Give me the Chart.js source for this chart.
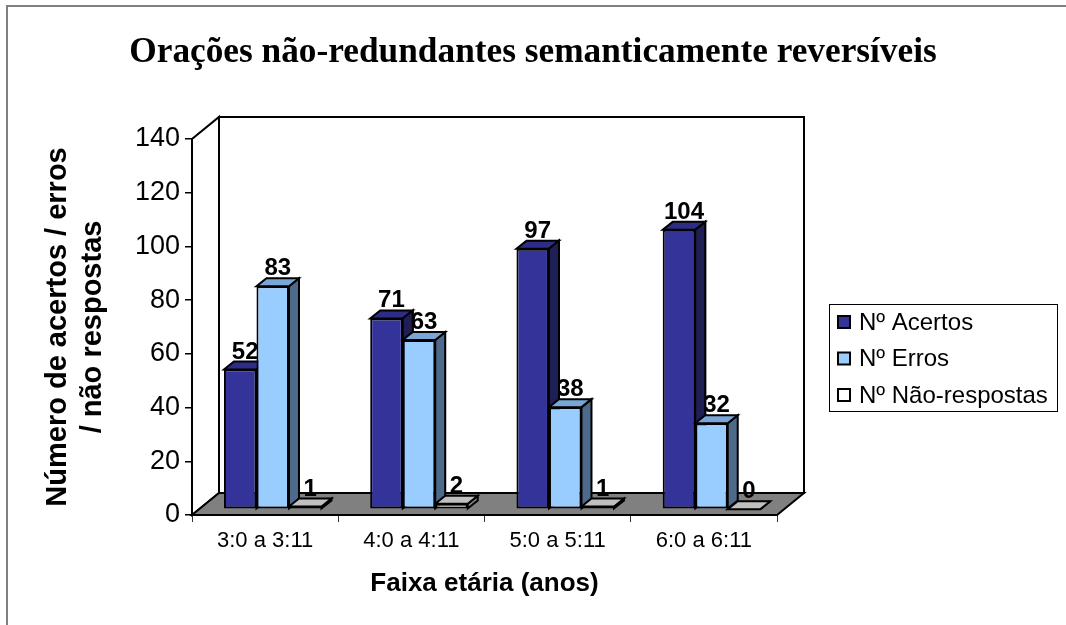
<!DOCTYPE html>
<html>
<head>
<meta charset="utf-8">
<script src="https://cdn.jsdelivr.net/npm/chart.js@4.4.0/dist/chart.umd.min.js"></script>
<style>
  html, body { margin: 0; padding: 0; background: #fff; }
  #wrap { position: relative; width: 1066px; height: 625px; }
</style>
</head>
<body>
<div id="wrap"><canvas id="chart" width="1066" height="625"></canvas></div>
<script>
const faixas = ['3:0 a 3:11', '4:0 a 4:11', '5:0 a 5:11', '6:0 a 6:11'];
const acertos = [52, 71, 97, 104];
const erros = [83, 63, 38, 32];
const naoRespostas = [1, 2, 1, 0];
const series = ['Nº Acertos', 'Nº Erros', 'Nº Não-respostas'];
const yMax = 140;
const yStep = 20;

// front / top / side colours per series
const frontCores = ['#333399', '#99ccff', '#ffffff'];
const topoCores = ['#2d2d88', '#79a6d6', '#c0c0c0'];
const ladoCores = ['#1f1f55', '#4d6a8a', '#808080'];

const DX = 27, DY = -22;    // depth of walls / floor
const BX = 10, BY = -8;     // depth of each bar
const SX = 7.6, SY = -5.8;  // bars sit a bit back on the floor

function poly(ctx, pts, fill) {
    ctx.beginPath();
    ctx.moveTo(pts[0][0], pts[0][1]);
    for (let i = 1; i < pts.length; i++) ctx.lineTo(pts[i][0], pts[i][1]);
    ctx.closePath();
    if (fill) { ctx.fillStyle = fill; ctx.fill(); }
    ctx.stroke();
}

function barra(chart, i, j) {
    const el = chart.getDatasetMeta(i).data[j];
    const p = el.getProps(['x', 'y', 'base', 'width'], true);
    return { l: p.x - p.width / 2, r: p.x + p.width / 2, t: Math.min(p.y, p.base), b: p.base, x: p.x };
}

function lado(ctx, b, i) {
    poly(ctx, [[b.r, b.t], [b.r, b.b], [b.r + BX, b.b + BY], [b.r + BX, b.t + BY]], ladoCores[i]);
}
function topo(ctx, b, i) {
    poly(ctx, [[b.l, b.t], [b.r, b.t], [b.r + BX, b.t + BY], [b.l + BX, b.t + BY]], topoCores[i]);
}
function rotulo(ctx, chart, b, i, j) {
    ctx.fillStyle = '#000';
    ctx.font = 'bold 24px "Liberation Sans", Arial, sans-serif';
    ctx.textAlign = 'center';
    ctx.textBaseline = 'alphabetic';
    ctx.fillText(String(chart.data.datasets[i].data[j]), b.x + BX / 2, b.t + BY - 3);
}

const caixa3d = {
    id: 'caixa3d',
    beforeDraw(chart) {
        const ctx = chart.ctx;
        ctx.save();
        ctx.fillStyle = '#808080';
        ctx.fillRect(6, 5, 2, 620);
        ctx.fillRect(6, 5, 1060, 2);
        ctx.restore();
    },
    beforeDatasetsDraw(chart) {
        const { ctx, chartArea: a, scales: { y } } = chart;
        const y0 = y.getPixelForValue(0), yt = y.getPixelForValue(yMax);
        ctx.save();
        ctx.lineWidth = 2;
        ctx.strokeStyle = '#000';
        poly(ctx, [[a.left, y0], [a.left, yt], [a.left + DX, yt + DY], [a.left + DX, y0 + DY]], '#fff');
        poly(ctx, [[a.left + DX, yt + DY], [a.right + DX, yt + DY], [a.right + DX, y0 + DY], [a.left + DX, y0 + DY]], '#fff');
        poly(ctx, [[a.left, y0], [a.right, y0], [a.right + DX, y0 + DY], [a.left + DX, y0 + DY]], '#808080');
        ctx.restore();

        ctx.save();
        ctx.translate(SX, SY);
        ctx.save();
        ctx.lineWidth = 2;
        ctx.strokeStyle = '#000';
        faixas.forEach((f, j) => {
            for (let i = 0; i < series.length; i++) {
                const b = barra(chart, i, j);
                lado(ctx, b, i);
                topo(ctx, b, i);
            }
            rotulo(ctx, chart, barra(chart, 0, j), 0, j);
        });
        ctx.restore();
    },
    afterDatasetsDraw(chart) {
        const ctx = chart.ctx;
        ctx.save();
        ctx.lineWidth = 2;
        ctx.strokeStyle = '#000';
        faixas.forEach((f, j) => {
            rotulo(ctx, chart, barra(chart, 1, j), 1, j);
            rotulo(ctx, chart, barra(chart, 2, j), 2, j);
            const a = barra(chart, 0, j), e = barra(chart, 1, j);
            if (a.t < e.t) {
                ctx.save();
                ctx.beginPath();
                ctx.rect(a.r - 2, 0, BX + 4, e.t + BY);
                ctx.clip();
                lado(ctx, a, 0);
                ctx.restore();
            }
        });
        ctx.restore();
        ctx.restore();
    },
    afterDraw(chart) {
        const ctx = chart.ctx;
        ctx.save();
        ctx.strokeStyle = '#000';
        ctx.lineWidth = 1;
        ctx.strokeRect(829.5, 304.5, 228, 107);
        ctx.font = '24px "Liberation Sans", Arial, sans-serif';
        ctx.textBaseline = 'middle';
        ctx.textAlign = 'left';
        series.forEach((s, i) => {
            const cy = 322 + i * 36.5;
            ctx.lineWidth = 2;
            ctx.fillStyle = frontCores[i];
            ctx.fillRect(838, cy - 6, 12, 12);
            ctx.strokeRect(838, cy - 6, 12, 12);
            ctx.fillStyle = '#000';
            ctx.fillText(s, 859, cy + 1);
        });
        ctx.restore();
    }
};

const ctx = document.querySelector('#chart').getContext('2d');
const chart = new Chart(ctx, {
    type: 'bar',
    data: {
        labels: faixas,
        datasets: [acertos, erros, naoRespostas].map((d, i) => ({
            label: series[i],
            data: d,
            backgroundColor: frontCores[i],
            borderColor: '#000',
            borderWidth: 2,
            borderSkipped: false,
            categoryPercentage: 0.667,
            barPercentage: 1
        }))
    },
    options: {
        responsive: false,
        animation: false,
        events: [],
        layout: { padding: 0 },
        plugins: {
            legend: { display: false },
            tooltip: { enabled: false },
            title: {
                display: true,
                text: 'Orações não-redundantes semanticamente reversíveis',
                color: '#000',
                font: { family: '"Liberation Serif", "Times New Roman", serif', size: 35.3, weight: 'bold' },
                padding: { top: 31.5, bottom: 65.1 }
            }
        },
        scales: {
            x: {
                grid: { drawOnChartArea: false, drawTicks: true, tickLength: 7, color: '#333', lineWidth: 1 },
                border: { display: false },
                ticks: { color: '#000', padding: 6, font: { family: '"Liberation Sans", Arial, sans-serif', size: 22 } },
                title: {
                    display: true,
                    text: 'Faixa etária (anos)',
                    color: '#000',
                    font: { family: '"Liberation Sans", Arial, sans-serif', size: 26, weight: 'bold' },
                    padding: { top: 0, bottom: 26 }
                },
                afterFit(s) { s.height = 110; }
            },
            y: {
                min: 0,
                max: yMax,
                grid: { drawOnChartArea: false, drawTicks: true, tickLength: 7, color: '#000', lineWidth: 1.5 },
                border: { display: true, color: '#000', width: 2 },
                ticks: { stepSize: yStep, color: '#000', padding: 5, font: { family: '"Liberation Sans", Arial, sans-serif', size: 27 } },
                title: {
                    display: true,
                    text: ['Número de acertos / erros', '/ não respostas'],
                    color: '#000',
                    font: { family: '"Liberation Sans", Arial, sans-serif', size: 29, weight: 'bold', lineHeight: 1.2 },
                    padding: { top: 41, bottom: 0 }
                },
                afterFit(s) { s.width = 192; }
            },
            // empty room on the right for the legend box
            lado: {
                position: 'right',
                grid: { display: false },
                border: { display: false },
                ticks: { display: false },
                afterFit(s) { s.width = 289; }
            }
        }
    },
    plugins: [caixa3d]
});
</script>
</body>
</html>
